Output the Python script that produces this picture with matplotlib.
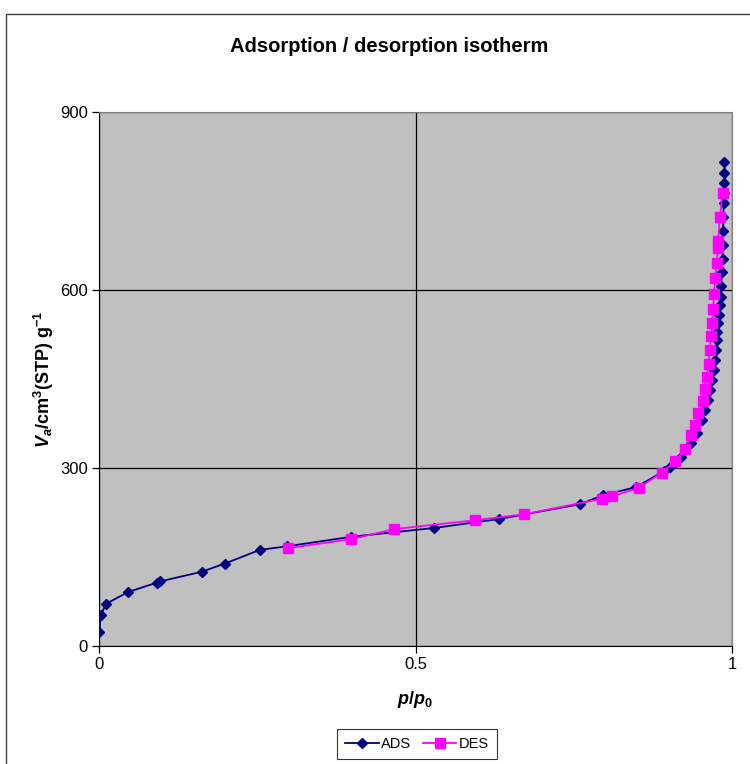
import matplotlib.pyplot as plt
from matplotlib.patches import Rectangle

plt.rcParams['font.family'] = ['Liberation Sans', 'DejaVu Sans']
plt.rcParams['mathtext.fontset'] = 'custom'
plt.rcParams['mathtext.rm'] = 'Liberation Sans'
plt.rcParams['mathtext.it'] = 'Liberation Sans:italic'
plt.rcParams['mathtext.bf'] = 'Liberation Sans:bold'
plt.rcParams['mathtext.bfit'] = 'Liberation Sans:bold:italic'

# adsorption branch
ads_x = [0.0005, 0.003, 0.011, 0.046, 0.092, 0.097, 0.162, 0.199, 0.254, 0.297,
         0.398, 0.530, 0.632, 0.760, 0.796, 0.849, 0.893, 0.902, 0.910, 0.920,
         0.935, 0.944, 0.952, 0.958, 0.962, 0.965, 0.968, 0.971, 0.973, 0.974,
         0.976, 0.977, 0.978, 0.980, 0.981, 0.982, 0.983, 0.984, 0.985, 0.985,
         0.986, 0.986, 0.987, 0.987, 0.988, 0.988, 0.988]
ads_y = [23, 52, 71, 91, 107, 109, 125, 139, 162, 168,
         184, 199, 214, 239, 254, 268, 295, 302, 308, 319,
         342, 359, 381, 398, 415, 431, 448, 465, 482, 499,
         516, 530, 544, 558, 575, 589, 606, 631, 653, 676,
         699, 723, 746, 764, 781, 798, 815]

# desorption branch
des_x = [0.299, 0.398, 0.4665, 0.594, 0.672, 0.794, 0.811, 0.853, 0.889, 0.910,
         0.926, 0.936, 0.9415, 0.947, 0.954, 0.957, 0.960, 0.963, 0.965, 0.967,
         0.969, 0.970, 0.972, 0.973, 0.976, 0.978, 0.978, 0.981, 0.985]
des_y = [165, 180, 197, 212, 222, 248, 252, 267, 292, 311,
         332, 356, 372, 392, 413, 433, 454, 476, 499, 522,
         545, 568, 594, 620, 645, 670, 683, 723, 764]

x_ticks = [0, 0.5, 1]
x_labels = ['0', '0.5', '1']
y_ticks = [0, 300, 600, 900]

fig = plt.figure(figsize=(7.5, 7.64), dpi=100)
ax = fig.add_axes([99/750, 1 - 646/764, 633/750, 534/764])
ax.set_facecolor('#C0C0C0')

ax.plot(ads_x, ads_y, color='#000080', lw=1.3, marker='D', ms=5,
        label='ADS', zorder=3)
ax.plot(des_x, des_y, color='#FF00FF', lw=1.3, marker='s', ms=6.5,
        label='DES', zorder=4)

ax.set_xlim(0, 1)
ax.set_ylim(0, 900)
ax.set_xticks(x_ticks)
ax.set_xticklabels(x_labels)
ax.set_yticks(y_ticks)
ax.grid(True, color='black', lw=0.9)
ax.set_axisbelow(True)
ax.tick_params(direction='out', length=5, width=0.9, labelsize=12, pad=3)

for side in ['top', 'right']:
    ax.spines[side].set_color('#808080')
for side in ['left', 'bottom']:
    ax.spines[side].set_color('black')

fig.text(389/750, 1 - 47/764, 'Adsorption / desorption isotherm',
         ha='center', va='center', fontsize=14.5, fontweight='bold')
ax.set_xlabel(r'$\mathbfit{p}$/$\mathbfit{p}_{\mathbf{0}}$', fontsize=13,
              fontweight='bold', labelpad=12)
ax.set_ylabel(r'$\mathbfit{V}_{\mathbfit{a}}$/cm$^{\mathbf{3}}$(STP) g$^{\mathbf{-1}}$',
              fontsize=13, fontweight='bold', labelpad=3)

leg = ax.legend(loc='center', bbox_to_anchor=(417/750, 1 - 744/764),
                bbox_transform=fig.transFigure, ncol=2, fontsize=10.5,
                frameon=True, fancybox=False, edgecolor='black',
                handlelength=2.3, columnspacing=0.8, handletextpad=0.15,
                borderpad=0.55)
leg.get_frame().set_linewidth(0.8)

fig.patches.append(Rectangle((6/750, -0.05), 1.0, 1 - 14/764 + 0.05,
                             transform=fig.transFigure, fill=False,
                             edgecolor='#404040', lw=1.0))

fig.savefig('out.png', dpi=100)
